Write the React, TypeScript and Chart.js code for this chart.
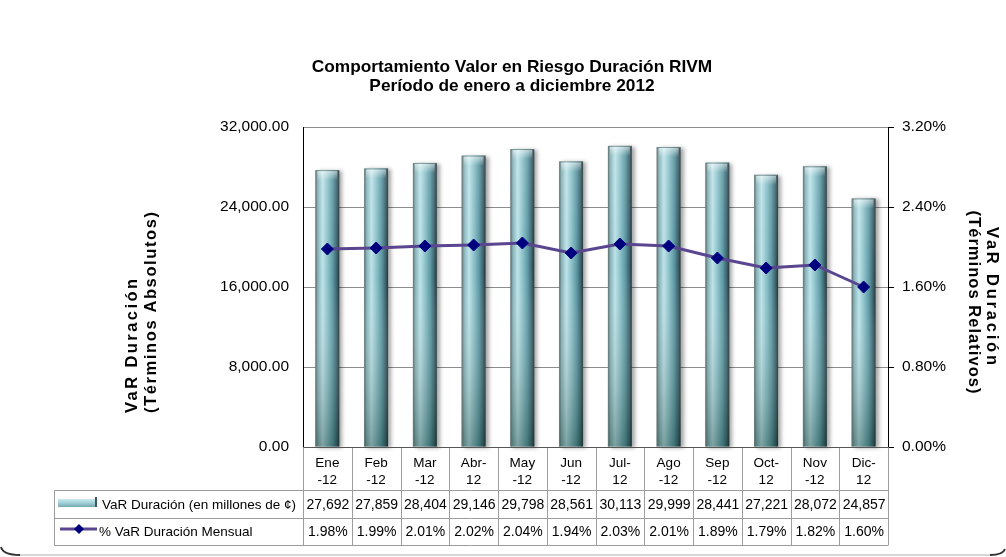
import React, { useEffect, useRef } from 'react';
import { Chart, registerables } from 'chart.js';

Chart.register(...registerables);

// ---------- data ----------
const categories: string[][] = [
  ['Ene', '-12'], ['Feb', '-12'], ['Mar', '-12'], ['Abr-', '12'], ['May', '-12'], ['Jun', '-12'],
  ['Jul-', '12'], ['Ago', '-12'], ['Sep', '-12'], ['Oct-', '12'], ['Nov', '-12'], ['Dic-', '12'],
];
const varDuracion = [27692, 27859, 28404, 29146, 29798, 28561, 30113, 29999, 28441, 27221, 28072, 24857];
const varPct = [1.98, 1.99, 2.01, 2.02, 2.04, 1.94, 2.03, 2.01, 1.89, 1.79, 1.82, 1.6];
const leftTicks = [0, 8000, 16000, 24000, 32000];
const rightTicks = [0, 0.8, 1.6, 2.4, 3.2];
const titleLines = ['Comportamiento Valor en Riesgo Duración RIVM', 'Período de enero a diciembre 2012'];
const leftAxisTitle = ['VaR Duración', '(Términos Absolutos)'];
const rightAxisTitle = ['VaR Duración', '(Términos Relativos)'];
const seriesNames = ['VaR Duración (en millones de ¢)', '% VaR Duración Mensual'];

const FONT = "'Liberation Sans', Arial, sans-serif";
const LINE_COLOR = '#5a4590';
const POINT_COLOR = '#00007f';

const fmtInt = (v: number) => v.toLocaleString('en-US', { maximumFractionDigits: 0 });
const fmt2 = (v: number) => v.toLocaleString('en-US', { minimumFractionDigits: 2, maximumFractionDigits: 2 });

function barGradient(ctx: CanvasRenderingContext2D, l: number, w: number) {
  const g = ctx.createLinearGradient(l, 0, l + w, 0);
  g.addColorStop(0, '#56696b');
  g.addColorStop(0.1, '#86b2b8');
  g.addColorStop(0.3, '#bde3e9');
  g.addColorStop(0.5, '#8fc3cb');
  g.addColorStop(0.72, '#5e9aa5');
  g.addColorStop(0.9, '#39606a');
  g.addColorStop(1, '#223234');
  return g;
}

const cylinderBars = {
  id: 'cylinderBars',
  beforeDatasetDraw(chart: any, args: any) {
    const meta = args.meta;
    if (meta.type !== 'bar') return;
    const ctx: CanvasRenderingContext2D = chart.ctx;
    ctx.save();
    meta.data.forEach((el: any) => {
      const p = el.getProps(['x', 'y', 'base', 'width'], true);
      const w = p.width;
      const l = p.x - w / 2;
      const t = p.y;
      const h = p.base - p.y;
      ctx.save();
      ctx.shadowColor = 'rgba(0,0,0,0.35)';
      ctx.shadowBlur = 4;
      ctx.shadowOffsetX = 3;
      ctx.shadowOffsetY = 1;
      ctx.fillStyle = barGradient(ctx, l, w);
      ctx.fillRect(l, t, w, h);
      ctx.restore();
      const v = ctx.createLinearGradient(0, t, 0, t + h);
      v.addColorStop(0, 'rgba(255,255,255,0.10)');
      v.addColorStop(0.4, 'rgba(255,255,255,0)');
      v.addColorStop(1, 'rgba(10,45,35,0.36)');
      ctx.fillStyle = v;
      ctx.fillRect(l, t, w, h);
      const c = ctx.createLinearGradient(0, t, 0, t + 10);
      c.addColorStop(0, 'rgba(255,255,255,0.6)');
      c.addColorStop(1, 'rgba(255,255,255,0)');
      ctx.fillStyle = c;
      ctx.fillRect(l + 2, t + 1, w - 4, 10);
      ctx.strokeStyle = 'rgba(110,130,130,0.7)';
      ctx.lineWidth = 1;
      ctx.beginPath();
      ctx.moveTo(l + 0.5, t + h);
      ctx.lineTo(l + 0.5, t + 0.5);
      ctx.lineTo(l + w - 0.5, t + 0.5);
      ctx.stroke();
    });
    ctx.restore();
    return false;
  },
};

function drawRotated(ctx: CanvasRenderingContext2D, text: string, x: number, y: number, angle: number,
  align: CanvasTextAlign, target: number) {
  ctx.save();
  ctx.translate(x, y);
  ctx.rotate(angle);
  ctx.textAlign = align;
  ctx.textBaseline = 'alphabetic';
  (ctx as any).letterSpacing = '0px';
  const natural = ctx.measureText(text).width;
  const ls = Math.max(0, (target - natural) / (text.length - 1));
  (ctx as any).letterSpacing = ls + 'px';
  ctx.fillText(text, align === 'center' ? ls / 2 : 0, 0);
  ctx.restore();
}

const decorations = {
  id: 'decorations',
  afterDraw(chart: any) {
    const ctx: CanvasRenderingContext2D = chart.ctx;
    const { left, right, bottom } = chart.chartArea;
    ctx.save();
    ctx.fillStyle = '#000';
    // title
    ctx.font = `bold 17.3px ${FONT}`;
    ctx.textAlign = 'center';
    ctx.textBaseline = 'alphabetic';
    ctx.fillText(titleLines[0], 512, 72);
    ctx.fillText(titleLines[1], 512, 91);

    // axis titles
    ctx.font = `bold 16.5px ${FONT}`;
    drawRotated(ctx, leftAxisTitle[0], 137, 413, -Math.PI / 2, 'left', 134);
    drawRotated(ctx, leftAxisTitle[1], 156, 413, -Math.PI / 2, 'left', 201);
    drawRotated(ctx, rightAxisTitle[0], 987, 296, Math.PI / 2, 'center', 138);
    drawRotated(ctx, rightAxisTitle[1], 969, 302, Math.PI / 2, 'center', 183);

    // data table
    const n = categories.length;
    const cw = (right - left) / n;
    const r1 = 490, r2 = 518, r3 = 545, legL = 54;
    ctx.strokeStyle = '#9c9c9c';
    ctx.lineWidth = 1;
    ctx.beginPath();
    for (let i = 1; i < n; i++) {
      const x = Math.round(left + i * cw) + 0.5;
      ctx.moveTo(x, bottom);
      ctx.lineTo(x, r3);
    }
    const rx = Math.round(right) + 0.5;
    ctx.moveTo(rx, bottom);
    ctx.lineTo(rx, r3);
    [r1, r2, r3].forEach((y) => {
      ctx.moveTo(legL + 0.5, y + 0.5);
      ctx.lineTo(rx, y + 0.5);
    });
    ctx.moveTo(legL + 0.5, r1 + 0.5);
    ctx.lineTo(legL + 0.5, r3 + 0.5);
    const lx = Math.round(left) + 0.5;
    ctx.moveTo(lx, bottom);
    ctx.lineTo(lx, r3);
    ctx.stroke();

    // axis line at base
    ctx.strokeStyle = '#555';
    ctx.beginPath();
    ctx.moveTo(lx, Math.round(bottom) + 0.5);
    ctx.lineTo(rx, Math.round(bottom) + 0.5);
    ctx.stroke();

    // header labels
    ctx.fillStyle = '#000';
    ctx.font = `13.5px ${FONT}`;
    ctx.textAlign = 'center';
    ctx.textBaseline = 'middle';
    const xs = chart.scales.x;
    categories.forEach((c, i) => {
      const cx = xs.getPixelForValue(i);
      ctx.fillText(c[0], cx, 463);
      ctx.fillText(c[1], cx, 480);
    });
    ctx.font = `14px ${FONT}`;
    varDuracion.forEach((v, i) => {
      ctx.fillText(fmtInt(v), xs.getPixelForValue(i) + 0.5, 505);
    });
    varPct.forEach((v, i) => {
      ctx.fillText(v.toFixed(2) + '%', xs.getPixelForValue(i) + 0.5, 532);
    });

    // legend keys
    const sg = ctx.createLinearGradient(0, 498, 0, 508);
    sg.addColorStop(0, '#d8f0f3');
    sg.addColorStop(0.5, '#9fd0d8');
    sg.addColorStop(1, '#6c9ea6');
    ctx.fillStyle = sg;
    ctx.fillRect(58, 499, 39, 8);
    ctx.fillStyle = '#3a5a60';
    ctx.fillRect(95, 497, 2, 10);
    ctx.strokeStyle = LINE_COLOR;
    ctx.lineWidth = 3;
    ctx.beginPath();
    ctx.moveTo(60, 529);
    ctx.lineTo(97, 529);
    ctx.stroke();
    ctx.fillStyle = POINT_COLOR;
    ctx.beginPath();
    ctx.moveTo(79, 524);
    ctx.lineTo(84, 529);
    ctx.lineTo(79, 534);
    ctx.lineTo(74, 529);
    ctx.closePath();
    ctx.fill();
    ctx.fillStyle = '#000';
    ctx.font = `13.5px ${FONT}`;
    ctx.textAlign = 'left';
    ctx.fillText(seriesNames[0], 102, 505);
    ctx.fillText(seriesNames[1], 99, 532);

    // outer frame (bottom only visible)
    ctx.strokeStyle = '#d6d6d6';
    ctx.lineWidth = 2;
    ctx.beginPath();
    ctx.moveTo(20, 555);
    ctx.lineTo(990, 555);
    ctx.stroke();
    ctx.strokeStyle = '#333';
    ctx.lineWidth = 2;
    ctx.beginPath();
    ctx.moveTo(1, 547);
    ctx.quadraticCurveTo(3, 555, 20, 555);
    ctx.stroke();
    ctx.beginPath();
    ctx.moveTo(990, 555);
    ctx.quadraticCurveTo(1003, 555, 1005, 549);
    ctx.stroke();
    ctx.restore();
  },
};

export default function App() {
  const ref = useRef<HTMLCanvasElement>(null);
  useEffect(() => {
    if (!ref.current) return;
    const chart = new Chart(ref.current, {
      type: 'bar',
      data: {
        labels: categories.map((c) => c.join('')),
        datasets: [
          {
            type: 'bar',
            label: seriesNames[0],
            data: varDuracion,
            yAxisID: 'y',
            backgroundColor: '#7fb7c0',
            barPercentage: 0.49,
            categoryPercentage: 1,
            order: 2,
          },
          {
            type: 'line',
            label: seriesNames[1],
            data: varPct,
            yAxisID: 'y1',
            borderColor: LINE_COLOR,
            borderWidth: 3,
            pointStyle: 'rectRot',
            pointRadius: 6,
            pointBackgroundColor: POINT_COLOR,
            pointBorderColor: POINT_COLOR,
            pointBorderWidth: 1,
            tension: 0,
            order: 1,
          } as any,
        ],
      },
      options: {
        responsive: false,
        animation: false,
        layout: { padding: { top: 127, bottom: 110, left: 0, right: 0 } },
        plugins: { legend: { display: false }, tooltip: { enabled: false }, title: { display: false } },
        scales: {
          x: { display: false, offset: true, grid: { display: false } },
          y: {
            position: 'left',
            min: 0,
            max: 32000,
            afterBuildTicks: (s: any) => { s.ticks = leftTicks.map((v) => ({ value: v })); },
            afterFit: (s: any) => { s.width = 303; },
            ticks: {
              padding: 14,
              color: '#000',
              font: { family: FONT, size: 15.5 },
              callback: (v: any) => fmt2(Number(v)),
            },
            grid: { color: '#8c8c8c', drawTicks: false, lineWidth: 1 },
            border: { color: '#000', width: 1 },
          },
          y1: {
            position: 'right',
            min: 0,
            max: 3.2,
            afterBuildTicks: (s: any) => { s.ticks = rightTicks.map((v) => ({ value: v })); },
            afterFit: (s: any) => { s.width = 1006 - 888; },
            ticks: {
              padding: 8,
              color: '#000',
              font: { family: FONT, size: 15.5 },
              callback: (v: any) => Number(v).toFixed(2) + '%',
            },
            grid: { drawOnChartArea: false, drawTicks: true, tickLength: 6, tickColor: '#000' },
            border: { color: '#000', width: 1 },
          },
        },
      },
      plugins: [cylinderBars, decorations],
    });
    return () => chart.destroy();
  }, []);
  return (
    <div style={{ position: 'absolute', left: 0, top: 0, width: 1006, height: 557, background: '#fff' }}>
      <canvas ref={ref} width={1006} height={557} style={{ display: 'block' }} />
    </div>
  );
}
